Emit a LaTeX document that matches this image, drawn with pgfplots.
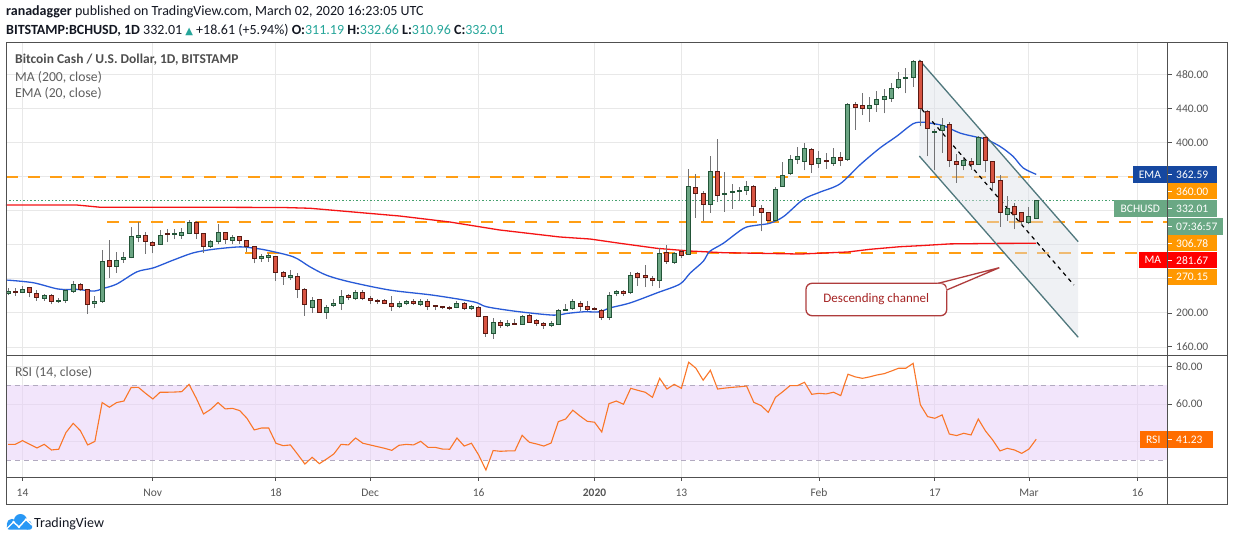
\documentclass[border=0pt]{standalone}
\usepackage{pgfplots}
\pgfplotsset{compat=1.18}
\usepackage{pgfplotstable}
\usepackage{fontspec}
\setmainfont{Carlito}
\newfontfamily\dejavu{DejaVu Sans}
\newcommand\fs[1]{\fontsize{#1}{#1}\selectfont}
\definecolor{gridc}{RGB}{232,232,232}
\definecolor{framec}{RGB}{80,80,80}
\definecolor{tickc}{RGB}{85,85,85}
\definecolor{wickc}{RGB}{115,115,117}
\definecolor{greenfill}{RGB}{107,165,131}
\definecolor{greenline}{RGB}{34,84,55}
\definecolor{redfill}{RGB}{215,84,66}
\definecolor{redline}{RGB}{91,26,19}
\definecolor{emac}{RGB}{40,90,215}
\definecolor{mac}{RGB}{245,20,20}
\definecolor{orangel}{RGB}{255,158,20}
\definecolor{orangebox}{RGB}{255,152,0}
\definecolor{dotc}{RGB}{70,160,110}
\definecolor{chanline}{RGB}{80,120,125}
\definecolor{chanfill}{RGB}{220,224,232}
\definecolor{bandc}{RGB}{231,205,249}
\definecolor{bandline}{RGB}{178,170,192}
\definecolor{rsic}{RGB}{250,118,40}
\definecolor{rsibox}{RGB}{255,109,0}
\definecolor{emabox}{RGB}{22,72,160}
\definecolor{greenbox}{RGB}{106,168,132}
\definecolor{mabox}{RGB}{255,0,0}
\definecolor{callc}{RGB}{175,60,60}
\definecolor{calltext}{RGB}{165,35,35}
\definecolor{teal}{RGB}{38,166,154}
\definecolor{hdr}{RGB}{19,23,34}
\definecolor{titlec}{RGB}{78,78,78}
\definecolor{subc}{RGB}{95,95,95}
\definecolor{tvblue}{RGB}{41,152,245}
\def\ys{0.8522}
\pgfdeclareplotmark{candle}{%
  \pgfmathsetmacro\cmid{(\vO+\vC)/2}%
  \pgfmathsetmacro\ctop{(\vH-\cmid)*\ys}%
  \pgfmathsetmacro\cbot{(\vL-\cmid)*\ys}%
  \pgfmathsetmacro\chalf{max(abs(\vC-\vO)*\ys/2,0.5)}%
  \pgfmathsetmacro\cfull{2*\chalf}%
  \pgfsetlinewidth{1pt}%
  \pgfsetstrokecolor{wickc}%
  \pgfpathmoveto{\pgfpoint{0pt}{\cbot pt}}%
  \pgfpathlineto{\pgfpoint{0pt}{\ctop pt}}%
  \pgfusepath{stroke}%
  \pgfmathparse{\vC<\vO ? 1 : 0}%
  \ifdim\pgfmathresult pt>0.5pt
    \pgfsetfillcolor{redfill}\pgfsetstrokecolor{redline}%
  \else
    \pgfsetfillcolor{greenfill}\pgfsetstrokecolor{greenline}%
  \fi
  \pgfpathrectangle{\pgfpoint{-2pt}{-\chalf pt}}{\pgfpoint{4pt}{\cfull pt}}%
  \pgfusepath{fill,stroke}%
}
\pgfplotstableread{
d O H L C
-2 222.8 229.0 220.8 225.1
-1 225.3 229.0 220.4 224.8
0 223.9 231.7 223.1 227.8
1 229.8 230.5 218.1 223.9
2 222.7 227.0 214.2 218.1
3 216.9 222.7 214.2 220.8
4 220.4 222.7 209.9 213.4
5 213.0 217.3 212.2 215.0
6 214.6 227.8 212.2 226.3
7 225.1 237.2 223.9 232.9
8 233.3 235.6 225.9 227.0
9 227.8 228.6 199.0 209.5
10 210.7 219.6 206.0 213.4
11 213.0 273.4 212.2 260.2
12 261.7 285.1 241.1 253.9
13 253.9 271.1 246.9 261.7
14 262.1 271.5 259.0 264.8
15 265.2 300.3 264.0 289.4
16 289.0 306.9 283.2 291.0
17 290.6 294.8 269.5 283.5
18 282.4 284.3 269.9 278.9
19 280.8 297.2 279.6 291.0
20 292.3 297.9 283.2 291.8
21 292.2 298.3 286.3 292.8
22 290.6 299.5 287.0 294.5
23 293.7 309.6 292.5 305.8
24 305.8 307.7 286.6 292.9
25 292.9 293.0 270.7 277.7
26 277.7 285.1 276.5 283.5
27 283.5 303.8 280.4 294.1
28 294.1 294.5 281.2 286.7
29 285.5 291.7 281.2 288.2
30 289.4 290.0 281.2 285.5
31 284.7 285.0 271.5 277.7
32 277.7 278.0 258.2 263.7
33 263.3 268.7 259.8 266.0
34 265.6 270.7 259.8 267.2
35 266.0 266.5 237.6 247.3
36 247.3 249.3 232.9 242.6
37 241.1 250.0 238.7 243.8
38 242.6 247.3 217.3 227.4
39 227.8 229.8 196.6 209.9
40 206.0 218.9 200.1 214.6
41 215.8 216.0 200.1 200.5
42 200.1 209.1 193.0 206.4
43 208.3 215.8 206.4 211.5
44 210.7 226.8 203.3 219.2
45 220.8 222.0 215.0 217.7
46 216.5 226.8 215.0 224.0
47 224.4 226.8 214.6 216.5
48 217.3 219.6 210.3 214.6
49 215.0 215.8 210.3 213.0
50 214.6 215.8 210.3 211.1
51 211.1 220.4 202.1 207.2
52 207.2 214.2 205.6 211.1
53 211.1 215.0 208.7 213.0
54 213.8 215.8 209.1 211.1
55 209.9 215.8 208.0 213.8
56 213.0 215.8 203.3 207.6
57 208.7 209.0 203.3 207.2
58 207.6 208.0 204.1 206.0
59 206.4 207.9 203.3 206.0
60 206.4 213.8 205.2 211.5
61 211.1 213.0 203.3 204.8
62 204.8 209.1 203.3 208.0
63 206.8 208.3 194.7 195.9
64 195.9 196.0 172.1 176.0
65 176.0 193.5 169.8 188.9
66 188.9 191.6 182.6 185.0
67 185.4 191.6 183.0 187.7
68 186.9 192.4 186.0 186.1
69 186.5 197.4 186.1 196.3
70 197.4 198.2 188.5 188.9
71 190.8 192.4 184.6 187.7
72 187.7 188.9 181.5 185.0
73 185.0 190.8 183.4 188.1
74 186.1 204.4 185.7 202.9
75 202.9 210.3 202.5 204.4
76 204.8 215.8 203.3 213.0
77 211.1 214.2 202.1 207.2
78 207.6 213.8 202.5 204.1
79 204.4 207.2 203.0 203.9
80 203.0 204.8 191.6 194.5
81 194.7 224.7 191.6 220.4
82 222.2 227.3 219.5 224.9
83 224.9 227.0 220.2 222.2
84 223.4 247.9 222.6 244.4
85 246.0 247.5 231.9 242.1
86 243.6 256.5 230.4 242.1
87 240.1 243.6 231.1 238.2
88 238.2 275.6 229.6 270.1
89 271.3 279.9 257.7 260.4
90 259.2 271.7 257.7 270.1
91 272.5 273.6 264.3 267.4
92 268.6 368.7 268.2 348.8
93 347.7 362.9 311.8 340.3
94 340.3 343.0 308.3 327.4
95 327.4 383.9 317.7 366.0
96 366.0 403.8 330.5 337.9
97 338.5 364.8 318.8 339.8
98 341.4 351.2 322.3 343.0
99 342.0 348.0 331.0 343.0
100 343.8 354.3 338.3 348.4
101 348.4 349.6 314.2 325.1
102 322.7 326.6 295.8 318.1
103 318.1 318.5 308.5 308.7
104 308.7 347.7 306.8 344.9
105 348.8 376.5 348.1 361.3
106 363.6 385.1 361.3 380.0
107 380.0 394.8 375.3 383.9
108 377.9 399.3 367.3 393.4
109 392.3 393.8 364.2 374.7
110 375.9 390.3 370.1 381.0
111 378.8 387.6 369.3 378.2
112 375.9 393.4 372.4 382.1
113 382.9 389.2 372.0 379.4
114 380.6 446.1 378.6 444.9
115 444.9 448.0 414.9 441.4
116 443.7 457.8 432.0 440.2
117 439.4 453.9 424.2 443.7
118 444.9 460.9 435.9 450.7
119 450.3 462.4 434.0 454.2
120 451.5 469.4 447.6 463.6
121 464.4 483.1 462.4 474.1
122 475.3 487.0 457.7 476.4
123 476.4 496.7 465.5 495.2
124 495.2 496.7 418.8 440.2
125 436.7 438.3 383.7 416.4
126 411.4 415.6 367.3 412.5
127 414.1 428.5 387.6 420.3
128 421.5 424.6 371.2 379.0
129 378.2 386.8 352.5 373.6
130 372.4 382.9 367.3 379.4
131 377.1 381.7 368.1 374.4
132 374.7 407.1 374.0 406.3
133 405.5 409.0 365.0 379.0
134 378.2 378.5 342.8 352.5
135 354.9 361.5 301.1 317.5
136 315.9 337.7 307.7 322.1
137 324.5 329.2 298.0 315.9
138 317.5 317.8 302.6 306.9
139 306.5 324.5 303.8 313.4
140 311.19 332.66 310.96 332.01
}\ohlc
\pgfplotstableread{
d v
-2.1 238.5
1.5 235.4
4.95 228.0
7.5 227.6
9.9 225.6
11 228.4
13.0 233.8
15.8 248.2
18.1 252.9
20.8 261.9
23.6 270.5
26.4 274.7
30.0 277.5
31.9 276.0
33.7 273.6
37.4 265.8
39.7 254.1
42.0 244.2
45.2 236.4
50.8 226.7
56.7 220.8
62.3 213.0
64.1 207.2
68.3 201.7
73.3 197.4
75.2 199.4
77.5 201.3
79.7 201.3
81.1 205.8
83.9 211.7
87.6 223.4
90.8 233.9
92.2 246.7
94.0 260.4
94.9 272.1
96.8 281.8
99.6 299.3
101.4 302.9
103.2 305.2
105.1 313.0
107.8 333.0
110.1 341.6
112.9 351.4
115.7 374.0
118.4 393.4
120.7 407.1
123.0 422.0
124.4 423.8
125.5 422.5
127.2 419.6
129.5 411.0
131.8 406.3
133.0 404.0
135.0 395.4
136.8 383.7
138.2 370.1
140.0 362.59
}\ema
\pgfplotstableread{
d v
-2.28 326.6
7.5 326.6
8.9 325.5
10.7 324.0
24.5 324.0
36.0 323.7
39.7 322.8
52.1 313.7
59.0 306.7
65.9 297.3
74.2 289.1
78.4 286.7
82.5 281.7
87.6 275.8
92.2 272.6
96.7 270.7
107.4 269.1
114.0 271.5
117.0 274.6
121.2 277.7
124.0 278.9
128.1 281.0
135.0 281.6
140.0 281.67
}\ma
\pgfplotstableread{
d v
-2 38.5
-1 38.5
0 40.5
1 38.5
2 36.6
3 38.5
4 35.5
5 35.9
6 44.8
7 49.7
8 45.8
9 38.2
10 40.1
11 60.8
12 58.3
13 60.8
14 61.6
15 68.8
16 68.9
17 65.7
18 62.7
19 66.3
20 66.3
21 66.4
22 66.6
23 70.5
24 63.1
25 54.7
26 57.2
27 60.8
28 57.4
29 57.7
30 56.5
31 52.4
32 46.2
33 47.2
34 47.2
35 39.1
36 37.8
37 38.2
38 33.2
39 28.0
40 31.6
41 28.2
42 30.7
43 33.4
44 38.5
45 38.2
46 41.9
47 39.1
48 38.2
49 37.3
50 36.4
51 35.3
52 38.0
53 38.5
54 38.2
55 40.1
56 36.9
57 36.9
58 36.0
59 35.9
60 41.9
61 37.6
62 39.1
63 32.8
64 24.8
65 35.2
66 34.8
67 35.0
68 35.0
69 43.3
70 39.6
71 38.7
72 37.6
73 39.2
74 50.6
75 52.0
76 56.7
77 53.6
78 50.8
79 50.3
80 45.1
81 60.2
82 61.6
83 59.9
84 68.4
85 67.3
86 66.3
87 63.6
88 73.7
89 68.0
90 70.5
91 68.4
92 82.3
93 79.1
94 72.7
95 78.0
96 68.0
97 68.5
98 68.9
99 69.2
100 69.6
101 60.9
102 59.2
103 55.6
104 63.6
105 66.6
106 69.8
107 69.8
108 71.6
109 65.2
110 65.7
111 65.4
112 66.3
113 64.5
114 75.9
115 74.5
116 73.7
117 74.5
118 75.5
119 76.2
120 77.6
121 79.1
122 79.1
123 81.7
124 59.6
125 53.3
126 52.4
127 54.2
128 44.0
129 43.2
130 44.4
131 43.5
132 52.0
133 45.6
134 40.8
135 35.0
136 36.4
137 35.5
138 33.7
139 36.0
140 41.23
}\rsi
\pgfplotsset{tvaxis/.style={scale only axis, anchor=south west, width=1161.5pt,
  xmin=-2.279, xmax=158.13, axis line style={draw=none}, tick style={draw=none},
  xticklabels={}, yticklabels={}, xticklabel style={opacity=0}, yticklabel style={opacity=0},
  xtick={0,18,35,48,63,79,91,110,126,139,154},
  grid=major, major grid style={draw=gridc, line width=1pt}}}
\newcommand\pricetag[5]{%
  \fill[#3] (1168,#1) rectangle (#5,#2);
  \draw[white, line width=0.8pt] (1168,{(#1+#2)/2}) -- (1171.5,{(#1+#2)/2});
  \node[anchor=west, inner sep=0, text=white] at (1176,{(#1+#2)/2}) {\fs{11.5}#4};}
\newcommand\labeltag[5]{%
  \fill[#3] (#5,#1) rectangle (1166.5,#2);
  \node[text=white, inner sep=0] at ({(#5+1166.5)/2},{(#1+#2)/2}) {\fs{11.5}#4};}
\begin{document}
\begin{tikzpicture}
\useasboundingbox (0,0) rectangle (1234pt,541pt);
\fill[white] (0,0) rectangle (1234pt,541pt);
% ---------- main price panel
\begin{axis}[tvaxis, at={(6pt,185.5pt)}, height=312.8pt, ymin=150.03, ymax=517.08,
  ytick={160,200,...,480}]
\addplot[orangel, line width=2pt, dash pattern=on 12pt off 10pt] coordinates {(-2.279,360) (158.13,360)};
\addplot[orangel, line width=2pt, dash pattern=on 12pt off 10pt] coordinates {(11.7,306.78) (158.13,306.78)};
\addplot[orangel, line width=2pt, dash pattern=on 12pt off 10pt] coordinates {(30.7,270.15) (158.13,270.15)};
\addplot[dotc, line width=0.8pt, dash pattern=on 1.5pt off 2pt] coordinates {(-2.279,332.01) (158.13,332.01)};
\addplot[draw=none, fill=chanfill, fill opacity=0.45] coordinates {(123.85,496.8) (145.8,283.6) (145.8,171.4) (123.85,384.1)} -- cycle;
\addplot[mac, line width=1.3pt] table[x=d, y=v] {\ma};
\addplot[emac, line width=1.3pt, smooth] table[x=d, y=v] {\ema};
\addplot[only marks, mark=candle,
  visualization depends on={\thisrow{O}\as\vO},
  visualization depends on={\thisrow{H}\as\vH},
  visualization depends on={\thisrow{L}\as\vL},
  visualization depends on={\thisrow{C}\as\vC}]
  table[x=d, y expr={(\thisrow{O}+\thisrow{C})/2}] {\ohlc};
\addplot[chanline, line width=1.3pt] coordinates {(123.85,496.8) (145.8,283.6)};
\addplot[chanline, line width=1.3pt] coordinates {(123.85,384.1) (145.8,171.4)};
\addplot[black, line width=1.2pt, dash pattern=on 4pt off 4pt] coordinates {(124.2,438.9) (145.2,232.8)};
\end{axis}
% ---------- RSI panel
\begin{axis}[tvaxis, at={(6pt,63.3pt)}, height=122.2pt, ymin=20.72, ymax=85.89,
  ytick={40,60,80}]
\addplot[draw=none, fill=bandc, fill opacity=0.5] coordinates {(-2.279,30) (158.13,30) (158.13,70) (-2.279,70)} -- cycle;
\addplot[bandline, line width=0.9pt, dash pattern=on 5pt off 4pt] coordinates {(-2.279,70) (158.13,70)};
\addplot[bandline, line width=0.9pt, dash pattern=on 5pt off 4pt] coordinates {(-2.279,30) (158.13,30)};
\addplot[rsic, line width=1.1pt] table[x=d, y=v] {\rsi};
\end{axis}
\begin{scope}[x=1pt,y=1pt]
% frame
\draw[framec, line width=1pt] (6,36.7) rectangle (1227.3,498.3);
\draw[framec, line width=1pt] (1167.5,36.7) -- (1167.5,498.3);
\draw[framec, line width=1pt] (6,185.5) -- (1227.3,185.5);
\draw[framec, line width=1pt] (6,63.3) -- (1227.3,63.3);
% date ticks and labels
\foreach \xx/\lab in {22.5/14, 152.8/Nov, 275.9/18, 370.1/Dec, 478.7/16, 594.5/\textbf{2020}, 681.4/13, 819.0/Feb, 934.9/17, 1029.0/Mar, 1137.6/16}{
  \draw[framec, line width=1pt] (\xx,63.3) -- (\xx,60.3);
  \node[anchor=base, inner sep=0, text=tickc] at (\xx,45) {\fs{11.5}\lab};}
% price ticks
\foreach \yy/\lab in {466.7/480.00, 432.6/440.00, 398.5/400.00, 227.9/200.00, 194.0/160.00, 174.45/80.00, 136.95/60.00}{
  \draw[framec, line width=1pt] (1167.5,\yy) -- (1171.5,\yy);
  \node[anchor=west, inner sep=0, text=tickc] at (1176,\yy) {\fs{11.5}\lab};}
% price tags
\labeltag{358.3}{375}{emabox}{EMA}{1133.3}
\pricetag{358.3}{375}{emabox}{362.59}{1217}
\pricetag{341.7}{357.7}{orangebox}{360.00}{1217}
\labeltag{324.3}{341}{greenbox}{BCHUSD}{1114}
\pricetag{324.3}{341}{greenbox}{332.01}{1217}
\pricetag{306}{323.3}{greenbox}{07:36:57}{1223}
\pricetag{290}{305.7}{orangebox}{306.78}{1217}
\labeltag{272.7}{289}{mabox}{MA}{1139}
\pricetag{272.7}{289}{mabox}{281.67}{1217}
\pricetag{256}{272}{orangebox}{270.15}{1217}
\labeltag{93.3}{110}{rsibox}{RSI}{1140}
\pricetag{93.3}{110}{rsibox}{41.23}{1212.6}
% callout
\draw[callc, line width=1.3pt, fill=white, rounded corners=6pt] (806,225.3) rectangle (946.7,257.7);
\fill[white] (937.5,257.7) -- (999.3,273.3) -- (946.7,250.2) -- (946.7,257.7) -- cycle;
\draw[callc, line width=1.3pt] (938.3,257.7) -- (999.3,273.3) -- (946.7,251);
\node[text=calltext, inner sep=0] at (876.3,242.2) {\fs{13}Descending channel};
% panel texts
\node[anchor=base west, inner sep=0, text=titlec] at (15,477) {\fs{13.5}\bfseries Bitcoin Cash / U.S. Dollar, 1D, BITSTAMP};
\node[anchor=base west, inner sep=0, text=subc] at (15,459.5) {\fs{13.7}MA (200, close)};
\node[anchor=base west, inner sep=0, text=subc] at (15,443) {\fs{13.7}EMA (20, close)};
\node[anchor=base west, inner sep=0, text=subc] at (15,164) {\fs{13.7}RSI (14, close)};
% header
\node[anchor=base west, inner sep=0, text=hdr] at (6,525.7) {\fs{14}\textbf{ranadagger} published on TradingView.com, March 02, 2020 16:23:05 UTC};
\node[anchor=base west, inner sep=0, text=hdr] at (6,506.3) {\fs{14}\textbf{BITSTAMP:BCHUSD, 1D}\ 332.01 {\color{teal}\dejavu\fs{10}▲} +18.61 (+5.94\%) \textbf{O:}{\color{teal}311.19} \textbf{H:}{\color{teal}332.66} \textbf{L:}{\color{teal}310.96} \textbf{C:}{\color{teal}332.01}};
% TradingView logo
\fill[tvblue] (12,17) circle (5.2);
\fill[tvblue] (20.5,20.5) circle (6.5);
\fill[tvblue] (27.5,16) circle (4.5);
\fill[tvblue, rounded corners=2pt] (6.8,11.5) rectangle (32,17);
\draw[white, line width=1.4pt] (7,12.5) -- (13.5,19) -- (19,14) -- (26,21.5) -- (32,16);
\fill[white] (13.5,19) circle (1.4) (19,14) circle (1.4) (26,21.5) circle (1.4);
\node[anchor=base west, inner sep=0, text=hdr] at (34,13.7) {\fs{14}TradingView};
\end{scope}
\end{tikzpicture}
\end{document}
